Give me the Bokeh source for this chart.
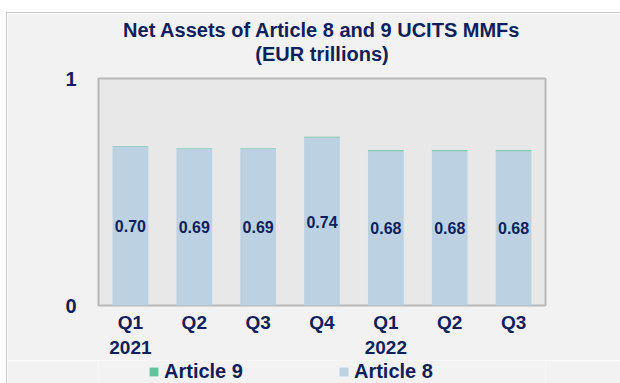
from bokeh.plotting import figure
from bokeh.layouts import column
from bokeh.models import (ColumnDataSource, Range1d, Legend, LegendItem, LabelSet,
                          FixedTicker, Title)
from bokeh.core.properties import value
from bokeh.embed import file_html
from bokeh.resources import INLINE

quarters = ["Q1 2021", "Q2 2021", "Q3 2021", "Q4 2021", "Q1 2022", "Q2 2022", "Q3 2022"]
tick_labels = ["Q1\n2021", "Q2", "Q3", "Q4", "Q1\n2022", "Q2", "Q3"]
article8 = [0.70, 0.69, 0.69, 0.74, 0.68, 0.68, 0.68]
article9 = [0.003, 0.003, 0.003, 0.003, 0.004, 0.004, 0.004]
series_names = ["Article 9", "Article 8"]

NAVY = "#0d1f5c"
BLUE = "#bcd2e2"
GREEN = "#62c29c"
PANEL = "#f2f2f2"
EDGE = "1px solid #c8c8c8"
FONT = "Liberation Sans"

pos = list(range(len(quarters)))
src = ColumnDataSource(dict(
    x=pos,
    a8=article8,
    a9top=[a + b for a, b in zip(article8, article9)],
    mid=[a / 2 for a in article8],
    txt=["%.2f" % a for a in article8],
))

# ---- main chart -------------------------------------------------------
p = figure(
    x_range=Range1d(-0.5, len(quarters) - 0.5),
    y_range=Range1d(0, 1),
    width=614, height=348,
    output_backend="svg", toolbar_location=None,
    min_border_left=91, min_border_right=76,
    min_border_top=65, min_border_bottom=56,
)
p.margin = (12, 0, 0, 6)
p.styles = {"border-top": EDGE, "border-left": EDGE}
p.background_fill_color = "#e8e8e8"
p.border_fill_color = PANEL
p.outline_line_color = "#b8b8b8"
p.outline_line_width = 2

# two-line heading, centred over the plot area (a blank spacer row sits
# between the heading and the plot area)
p.title.visible = False
p.add_layout(Title(text=" ", text_font_size="11px", standoff=0), "above")
for txt in ["(EUR trillions)", "Net Assets of Article 8 and 9 UCITS MMFs"]:
    p.add_layout(Title(text=txt, align="center", text_font=FONT,
                       text_font_size="20px", text_font_style="bold",
                       text_color=NAVY, standoff=0, offset=0), "above")

p.vbar(x="x", top="a8", bottom=0, width=0.56, source=src,
       fill_color=BLUE, line_color=None)
p.vbar(x="x", top="a9top", bottom="a8", width=0.56, source=src,
       fill_color=GREEN, line_color=None)

labels = LabelSet(x="x", y="mid", text="txt", source=src,
                  text_align="center", text_baseline="middle",
                  text_font=value(FONT), text_font_size=value("16px"),
                  text_font_style="bold", text_color=NAVY)
p.add_layout(labels)

p.xgrid.visible = False
p.ygrid.visible = False

p.yaxis.ticker = FixedTicker(ticks=[0, 1])
p.yaxis.axis_line_color = None
p.yaxis.major_tick_line_color = None
p.yaxis.minor_tick_line_color = None
p.yaxis.major_label_text_font = FONT
p.yaxis.major_label_text_font_size = "20px"
p.yaxis.major_label_text_font_style = "bold"
p.yaxis.major_label_text_color = NAVY
p.yaxis.major_label_standoff = 16

p.xaxis.ticker = FixedTicker(ticks=pos)
p.xaxis.axis_line_color = None
p.xaxis.major_tick_line_color = None
p.xaxis.minor_tick_line_color = None
p.xaxis.major_tick_out = 0
p.xaxis.major_tick_in = 0
p.xaxis.major_label_overrides = {i: t for i, t in zip(pos, tick_labels)}
p.xaxis.major_label_text_font = FONT
p.xaxis.major_label_text_font_size = "19px"
p.xaxis.major_label_text_font_style = "bold"
p.xaxis.major_label_text_color = NAVY
p.xaxis.major_label_standoff = 6

# ---- legend strip under the chart (its frame lines up with the chart's) --
# The series are repeated here only to give the legend its swatches; the
# strip's y range sits above the data so the bars themselves stay hidden.
lf = figure(
    x_range=Range1d(-0.5, len(quarters) - 0.5), y_range=Range1d(2, 3),
    width=614, height=23,
    output_backend="svg", toolbar_location=None,
    x_axis_location=None, y_axis_location=None,
    min_border=0,
)
lf.margin = (0, 0, 0, 6)
lf.styles = {"border-left": EDGE}
lf.background_fill_color = PANEL
lf.border_fill_color = PANEL
lf.outline_line_color = None
lf.xgrid.visible = False
lf.ygrid.visible = False

swatch9 = lf.vbar(x="x", top="a9top", bottom="a8", width=0.56, source=src,
                  fill_color=GREEN, line_color=None)
swatch8 = lf.vbar(x="x", top="a8", bottom=0, width=0.56, source=src,
                  fill_color=BLUE, line_color=None)

legend = Legend(
    items=[LegendItem(label=series_names[0], renderers=[swatch9]),
           LegendItem(label=series_names[1], renderers=[swatch8])],
    orientation="horizontal",
    location=(50, 0),
    padding=0, margin=0,
    background_fill_alpha=0, border_line_color=None,
    label_text_font=FONT, label_text_font_size="20px",
    label_text_font_style="bold", label_text_color=NAVY,
    glyph_width=11, glyph_height=11, label_standoff=5, spacing=95,
)
lf.add_layout(legend, "center")

layout = column(p, lf, spacing=0)
open("out.html", "w").write(file_html(layout, INLINE))
